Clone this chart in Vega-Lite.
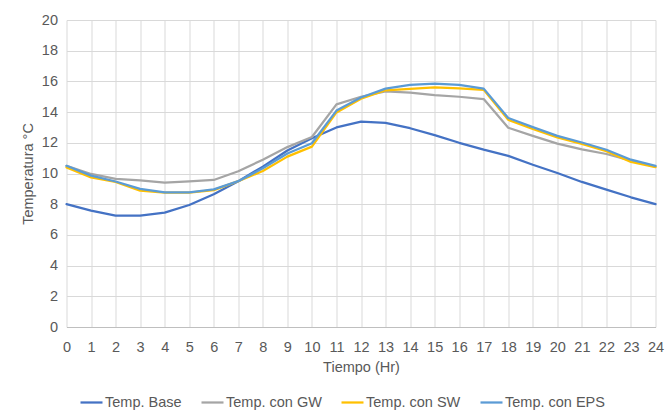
{
  "$schema": "https://vega.github.io/schema/vega-lite/v6.json",
  "width": 589,
  "height": 307,
  "autosize": {"type": "none"},
  "padding": {"left": 66.5, "top": 20, "right": 12.5, "bottom": 92},
  "background": "white",
  "config": {
    "font": "Liberation Sans, Arial, sans-serif",
    "view": {"stroke": null},
    "axis": {
      "labelColor": "#595959",
      "titleColor": "#595959",
      "labelFontSize": 14.5,
      "titleFontSize": 14.5,
      "titleFontWeight": "normal",
      "gridColor": "#D9D9D9",
      "gridWidth": 1,
      "ticks": false
    }
  },
  "data": {
    "values": [
      {"h":0,"s":"Temp. Base","t":8.0},{"h":1,"s":"Temp. Base","t":7.58},{"h":2,"s":"Temp. Base","t":7.25},{"h":3,"s":"Temp. Base","t":7.25},{"h":4,"s":"Temp. Base","t":7.45},{"h":5,"s":"Temp. Base","t":7.95},{"h":6,"s":"Temp. Base","t":8.65},{"h":7,"s":"Temp. Base","t":9.5},{"h":8,"s":"Temp. Base","t":10.45},{"h":9,"s":"Temp. Base","t":11.5},{"h":10,"s":"Temp. Base","t":12.3},{"h":11,"s":"Temp. Base","t":13.0},{"h":12,"s":"Temp. Base","t":13.38},{"h":13,"s":"Temp. Base","t":13.3},{"h":14,"s":"Temp. Base","t":12.95},{"h":15,"s":"Temp. Base","t":12.5},{"h":16,"s":"Temp. Base","t":12.0},{"h":17,"s":"Temp. Base","t":11.55},{"h":18,"s":"Temp. Base","t":11.15},{"h":19,"s":"Temp. Base","t":10.57},{"h":20,"s":"Temp. Base","t":10.03},{"h":21,"s":"Temp. Base","t":9.45},{"h":22,"s":"Temp. Base","t":8.95},{"h":23,"s":"Temp. Base","t":8.45},{"h":24,"s":"Temp. Base","t":8.0},
      {"h":0,"s":"Temp. con GW","t":10.5},{"h":1,"s":"Temp. con GW","t":9.97},{"h":2,"s":"Temp. con GW","t":9.65},{"h":3,"s":"Temp. con GW","t":9.55},{"h":4,"s":"Temp. con GW","t":9.4},{"h":5,"s":"Temp. con GW","t":9.48},{"h":6,"s":"Temp. con GW","t":9.58},{"h":7,"s":"Temp. con GW","t":10.15},{"h":8,"s":"Temp. con GW","t":10.9},{"h":9,"s":"Temp. con GW","t":11.72},{"h":10,"s":"Temp. con GW","t":12.38},{"h":11,"s":"Temp. con GW","t":14.5},{"h":12,"s":"Temp. con GW","t":15.0},{"h":13,"s":"Temp. con GW","t":15.35},{"h":14,"s":"Temp. con GW","t":15.27},{"h":15,"s":"Temp. con GW","t":15.11},{"h":16,"s":"Temp. con GW","t":15.0},{"h":17,"s":"Temp. con GW","t":14.85},{"h":18,"s":"Temp. con GW","t":12.98},{"h":19,"s":"Temp. con GW","t":12.45},{"h":20,"s":"Temp. con GW","t":11.95},{"h":21,"s":"Temp. con GW","t":11.57},{"h":22,"s":"Temp. con GW","t":11.27},{"h":23,"s":"Temp. con GW","t":10.83},{"h":24,"s":"Temp. con GW","t":10.45},
      {"h":0,"s":"Temp. con SW","t":10.4},{"h":1,"s":"Temp. con SW","t":9.75},{"h":2,"s":"Temp. con SW","t":9.45},{"h":3,"s":"Temp. con SW","t":8.88},{"h":4,"s":"Temp. con SW","t":8.75},{"h":5,"s":"Temp. con SW","t":8.75},{"h":6,"s":"Temp. con SW","t":8.92},{"h":7,"s":"Temp. con SW","t":9.5},{"h":8,"s":"Temp. con SW","t":10.16},{"h":9,"s":"Temp. con SW","t":11.1},{"h":10,"s":"Temp. con SW","t":11.75},{"h":11,"s":"Temp. con SW","t":13.98},{"h":12,"s":"Temp. con SW","t":14.87},{"h":13,"s":"Temp. con SW","t":15.42},{"h":14,"s":"Temp. con SW","t":15.52},{"h":15,"s":"Temp. con SW","t":15.61},{"h":16,"s":"Temp. con SW","t":15.55},{"h":17,"s":"Temp. con SW","t":15.45},{"h":18,"s":"Temp. con SW","t":13.5},{"h":19,"s":"Temp. con SW","t":12.9},{"h":20,"s":"Temp. con SW","t":12.35},{"h":21,"s":"Temp. con SW","t":11.92},{"h":22,"s":"Temp. con SW","t":11.45},{"h":23,"s":"Temp. con SW","t":10.75},{"h":24,"s":"Temp. con SW","t":10.42},
      {"h":0,"s":"Temp. con EPS","t":10.5},{"h":1,"s":"Temp. con EPS","t":9.86},{"h":2,"s":"Temp. con EPS","t":9.48},{"h":3,"s":"Temp. con EPS","t":9.0},{"h":4,"s":"Temp. con EPS","t":8.77},{"h":5,"s":"Temp. con EPS","t":8.77},{"h":6,"s":"Temp. con EPS","t":8.97},{"h":7,"s":"Temp. con EPS","t":9.5},{"h":8,"s":"Temp. con EPS","t":10.34},{"h":9,"s":"Temp. con EPS","t":11.3},{"h":10,"s":"Temp. con EPS","t":11.97},{"h":11,"s":"Temp. con EPS","t":14.1},{"h":12,"s":"Temp. con EPS","t":14.95},{"h":13,"s":"Temp. con EPS","t":15.53},{"h":14,"s":"Temp. con EPS","t":15.77},{"h":15,"s":"Temp. con EPS","t":15.85},{"h":16,"s":"Temp. con EPS","t":15.77},{"h":17,"s":"Temp. con EPS","t":15.53},{"h":18,"s":"Temp. con EPS","t":13.62},{"h":19,"s":"Temp. con EPS","t":13.02},{"h":20,"s":"Temp. con EPS","t":12.45},{"h":21,"s":"Temp. con EPS","t":12.02},{"h":22,"s":"Temp. con EPS","t":11.55},{"h":23,"s":"Temp. con EPS","t":10.9},{"h":24,"s":"Temp. con EPS","t":10.5}
    ]
  },
  "mark": {"type": "line", "strokeWidth": 2.25, "strokeCap": "round", "strokeJoin": "round"},
  "encoding": {
    "x": {
      "field": "h", "type": "quantitative",
      "scale": {"domain": [0, 24], "nice": false, "zero": true},
      "axis": {
        "title": "Tiempo (Hr)",
        "values": [0,1,2,3,4,5,6,7,8,9,10,11,12,13,14,15,16,17,18,19,20,21,22,23,24],
        "labelPadding": 13,
        "titlePadding": 7,
        "domainColor": "#BFBFBF",
        "domainWidth": 1,
        "labelFlush": false
      }
    },
    "y": {
      "field": "t", "type": "quantitative",
      "scale": {"domain": [0, 20], "nice": false},
      "axis": {
        "title": "Temperatura °C",
        "values": [0,2,4,6,8,10,12,14,16,18,20],
        "domain": false,
        "labelPadding": 9,
        "titlePadding": 6
      }
    },
    "color": {
      "field": "s", "type": "nominal",
      "scale": {
        "domain": ["Temp. Base", "Temp. con GW", "Temp. con SW", "Temp. con EPS"],
        "range": ["#4472C4", "#A5A5A5", "#FFC000", "#5B9BD5"]
      },
      "legend": {
        "title": null,
        "orient": "none",
        "legendX": 12.5,
        "legendY": 370,
        "direction": "horizontal",
        "symbolType": "stroke",
        "symbolSize": 484,
        "symbolStrokeWidth": 2.25,
        "labelFontSize": 14.5,
        "labelColor": "#595959",
        "columnPadding": 15,
        "labelOffset": 1
      }
    },
    "order": {"field": "h"}
  }
}
